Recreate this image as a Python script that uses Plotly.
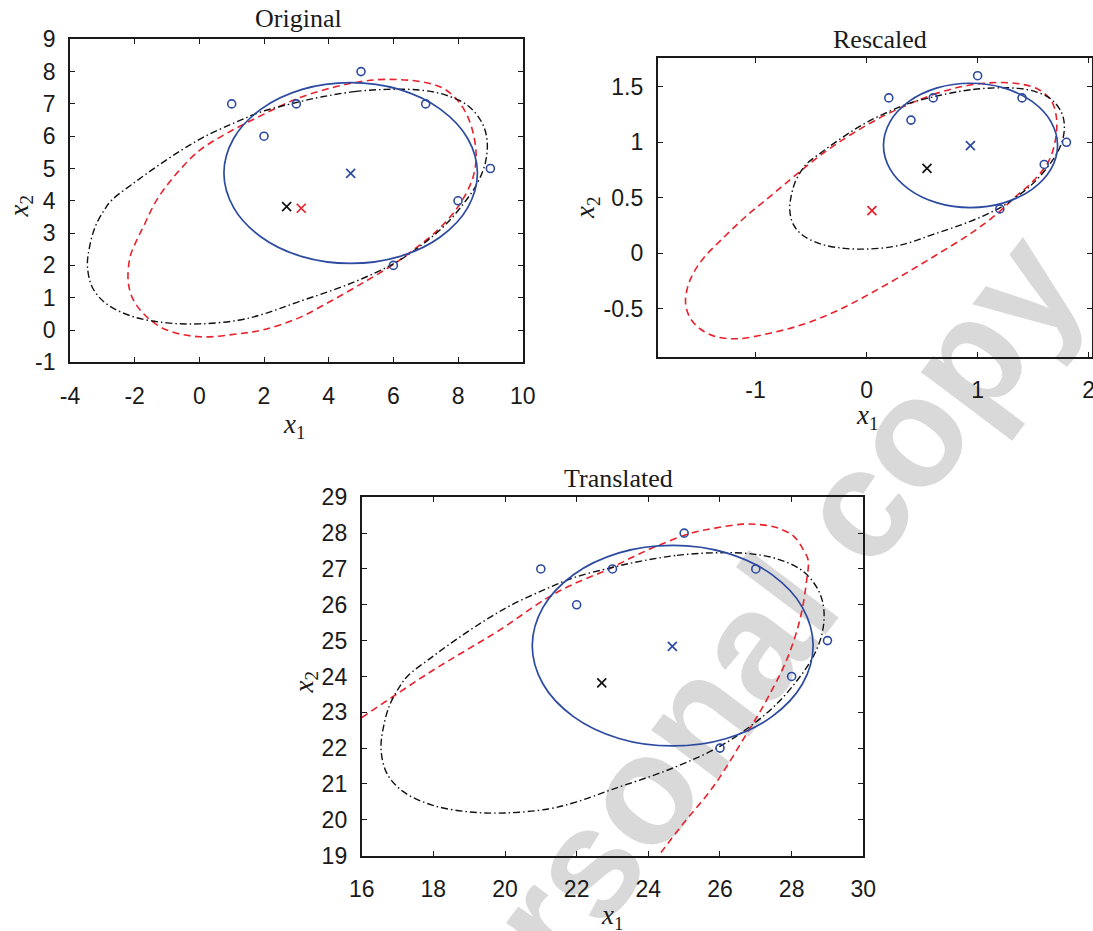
import math
import plotly.graph_objects as go

W, H = 1093, 931

# ---------------- data ----------------
# --- Original ---
orig_pts_x = [1, 2, 3, 5, 7, 9, 8, 6]
orig_pts_y = [7, 6, 7, 8, 7, 5, 4, 2]
orig_blue_x = [4.68, 3.18, 1.91, 1.06, 0.76, 1.06, 1.91, 3.18, 4.68, 6.18, 7.45, 8.30, 8.60, 8.30, 7.45, 6.18, 4.68]
orig_blue_y = [7.66, 7.45, 6.84, 5.93, 4.86, 3.79, 2.88, 2.27, 2.06, 2.27, 2.88, 3.79, 4.86, 5.93, 6.84, 7.45, 7.66]
orig_black_x = [3.80, 4.80, 5.80, 6.80, 7.60, 8.30, 8.75, 8.90, 8.85, 8.60, 8.20, 7.60, 6.90, 6.00, 4.70, 3.00, 2.00, 1.20, 0.00, -1.00, -2.04, -2.86, -3.30, -3.46, -3.40, -3.22, -2.95, -2.71, -2.04, -1.32, -0.55, 0.15, 1.05, 1.90, 2.90, 3.80]
orig_black_y = [7.22, 7.38, 7.45, 7.43, 7.28, 6.95, 6.40, 5.85, 5.20, 4.55, 3.95, 3.25, 2.65, 2.05, 1.45, 0.85, 0.50, 0.30, 0.19, 0.22, 0.41, 0.80, 1.30, 1.96, 2.55, 3.20, 3.70, 4.02, 4.54, 5.06, 5.57, 5.98, 6.40, 6.75, 7.02, 7.22]
orig_red_x = [3.04, 4.13, 5.00, 5.75, 6.84, 7.49, 7.93, 8.25, 8.47, 8.56, 8.47, 8.25, 7.93, 7.38, 6.62, 5.97, 5.21, 4.13, 3.04, 1.95, 1.26, 0.02, -1.01, -1.63, -2.04, -2.20, -2.14, -1.95, -1.73, -1.32, -0.70, 0.02, 0.85, 1.95, 3.04]
orig_red_y = [7.17, 7.51, 7.69, 7.76, 7.69, 7.51, 7.17, 6.71, 6.09, 5.37, 4.75, 4.23, 3.72, 3.10, 2.48, 2.01, 1.55, 0.93, 0.36, 0.00, -0.11, -0.21, 0.00, 0.41, 0.93, 1.50, 2.27, 2.75, 3.20, 4.02, 4.85, 5.57, 6.09, 6.66, 7.17]
orig_cross_blue = (4.68, 4.85)
orig_cross_black = (2.70, 3.82)
orig_cross_red = (3.15, 3.77)

# --- Rescaled ---
resc_pts_x = [0.2, 0.4, 0.6, 1.0, 1.4, 1.8, 1.6, 1.2]
resc_pts_y = [1.4, 1.2, 1.4, 1.6, 1.4, 1.0, 0.8, 0.4]
resc_blue_x = [0.936, 0.636, 0.382, 0.212, 0.152, 0.212, 0.382, 0.636, 0.936, 1.236, 1.490, 1.660, 1.720, 1.660, 1.490, 1.236, 0.936]
resc_blue_y = [1.532, 1.490, 1.368, 1.186, 0.972, 0.758, 0.576, 0.454, 0.412, 0.454, 0.576, 0.758, 0.972, 1.186, 1.368, 1.490, 1.532]
resc_black_x = [0.760, 0.960, 1.160, 1.360, 1.520, 1.660, 1.750, 1.780, 1.770, 1.720, 1.640, 1.520, 1.380, 1.200, 0.940, 0.600, 0.400, 0.240, 0.000, -0.200, -0.408, -0.572, -0.660, -0.692, -0.680, -0.644, -0.590, -0.542, -0.408, -0.264, -0.110, 0.030, 0.210, 0.380, 0.580, 0.760]
resc_black_y = [1.444, 1.476, 1.490, 1.486, 1.456, 1.390, 1.280, 1.170, 1.040, 0.910, 0.790, 0.650, 0.530, 0.410, 0.290, 0.170, 0.100, 0.060, 0.038, 0.044, 0.082, 0.160, 0.260, 0.392, 0.510, 0.640, 0.740, 0.804, 0.908, 1.012, 1.114, 1.196, 1.280, 1.350, 1.404, 1.444]
resc_red_x = [0.35, 0.60, 0.85, 1.10, 1.35, 1.54, 1.66, 1.71, 1.70, 1.64, 1.50, 1.33, 1.18, 0.94, 0.62, 0.32, 0.02, -0.27, -0.57, -0.87, -1.16, -1.36, -1.50, -1.59, -1.63, -1.61, -1.555, -1.465, -1.31, -1.10, -0.86, -0.62, -0.38, -0.14, 0.10, 0.35]
resc_red_y = [1.33, 1.43, 1.50, 1.535, 1.53, 1.48, 1.38, 1.22, 1.02, 0.83, 0.65, 0.50, 0.36, 0.18, -0.02, -0.20, -0.37, -0.52, -0.64, -0.72, -0.77, -0.75, -0.68, -0.58, -0.45, -0.30, -0.17, -0.04, 0.12, 0.32, 0.52, 0.72, 0.91, 1.07, 1.21, 1.33]
resc_cross_blue = (0.935, 0.969)
resc_cross_black = (0.544, 0.765)
resc_cross_red = (0.048, 0.384)

# --- Translated ---
tran_pts_x = [21, 22, 23, 25, 27, 29, 28, 26]
tran_pts_y = [27, 26, 27, 28, 27, 25, 24, 22]
tran_blue_x = [24.68, 23.18, 21.91, 21.06, 20.76, 21.06, 21.91, 23.18, 24.68, 26.18, 27.45, 28.30, 28.60, 28.30, 27.45, 26.18, 24.68]
tran_blue_y = [27.66, 27.45, 26.84, 25.93, 24.86, 23.79, 22.88, 22.27, 22.06, 22.27, 22.88, 23.79, 24.86, 25.93, 26.84, 27.45, 27.66]
tran_black_x = [23.80, 24.80, 25.80, 26.80, 27.60, 28.30, 28.75, 28.90, 28.85, 28.60, 28.20, 27.60, 26.90, 26.00, 24.70, 23.00, 22.00, 21.20, 20.00, 19.00, 17.96, 17.14, 16.70, 16.54, 16.60, 16.78, 17.05, 17.29, 17.96, 18.68, 19.45, 20.15, 21.05, 21.90, 22.90, 23.80]
tran_black_y = [27.22, 27.38, 27.45, 27.43, 27.28, 26.95, 26.40, 25.85, 25.20, 24.55, 23.95, 23.25, 22.65, 22.05, 21.45, 20.85, 20.50, 20.30, 20.19, 20.22, 20.41, 20.80, 21.30, 21.96, 22.55, 23.20, 23.70, 24.02, 24.54, 25.06, 25.57, 25.98, 26.40, 26.75, 27.02, 27.22]
tran_red_x = [16.00, 17.07, 18.00, 18.93, 19.86, 21.16, 22.00, 22.84, 23.60, 24.31, 25.20, 25.86, 26.63, 27.18, 27.62, 28.06, 28.33, 28.46, 28.42, 28.23, 27.86, 27.30, 26.75, 25.81, 24.98, 24.28]
tran_red_y = [22.85, 23.57, 24.18, 24.74, 25.30, 26.18, 26.62, 26.97, 27.35, 27.67, 28.00, 28.14, 28.25, 28.23, 28.14, 27.91, 27.53, 27.25, 26.69, 25.58, 24.46, 23.34, 22.41, 20.92, 19.90, 18.99]
tran_cross_blue = (24.67, 24.84)
tran_cross_black = (22.70, 23.82)

# --- ticks ---
orig_xticks = [-4, -2, 0, 2, 4, 6, 8, 10]
orig_xtext = ["-4", "-2", "0", "2", "4", "6", "8", "10"]
orig_yticks = [-1, 0, 1, 2, 3, 4, 5, 6, 7, 8, 9]
orig_ytext = ["-1", "0", "1", "2", "3", "4", "5", "6", "7", "8", "9"]
resc_xticks = [-1, 0, 1, 2]
resc_xtext = ["-1", "0", "1", "2"]
resc_yticks = [-0.5, 0, 0.5, 1, 1.5]
resc_ytext = ["-0.5", "0", "0.5", "1", "1.5"]
tran_xticks = [16, 18, 20, 22, 24, 26, 28, 30]
tran_xtext = ["16", "18", "20", "22", "24", "26", "28", "30"]
tran_yticks = [19, 20, 21, 22, 23, 24, 25, 26, 27, 28, 29]
tran_ytext = ["19", "20", "21", "22", "23", "24", "25", "26", "27", "28", "29"]

titles = ["Original", "Rescaled", "Translated"]
watermark_text = "personal copy"

# ---------------- styling ----------------
BLUE = "#2c4aa0"
RED = "#e8212b"
BLACK = "#111111"
AX = "#1a1a1a"
TICKFONT = dict(family="Liberation Sans, Arial, sans-serif", size=23, color=AX)
SERIF = "Liberation Serif, Times New Roman, serif"

# pixel boxes (left, top, right, bottom)
boxes = {
    "orig": (70.0, 39.3, 522.7, 362.3),
    "resc": (657.7, 57.7, 1092.0, 356.5),
    "tran": (361.7, 497.3, 863.3, 855.6),
}


def px(x):
    return x / W


def py(y):
    return 1 - y / H


fig = go.Figure()


def add_panel(xa, ya, blue_x, blue_y, black_x, black_y, red_x, red_y,
              pts_x, pts_y, crosses):
    fig.add_trace(go.Scatter(x=red_x, y=red_y, mode="lines", xaxis=xa, yaxis=ya,
                             line=dict(color=RED, width=1.6, dash="7px,4.5px", shape="spline", smoothing=1.0),
                             hoverinfo="skip"))
    fig.add_trace(go.Scatter(x=black_x, y=black_y, mode="lines", xaxis=xa, yaxis=ya,
                             line=dict(color=BLACK, width=1.4, dash="7px,3px,1.5px,3px", shape="spline", smoothing=1.0),
                             hoverinfo="skip"))
    fig.add_trace(go.Scatter(x=blue_x, y=blue_y, mode="lines", xaxis=xa, yaxis=ya,
                             line=dict(color=BLUE, width=1.7, shape="spline", smoothing=1.0),
                             hoverinfo="skip"))
    fig.add_trace(go.Scatter(x=pts_x, y=pts_y, mode="markers", xaxis=xa, yaxis=ya,
                             marker=dict(symbol="circle-open", size=8, color=BLUE, line=dict(width=1.6, color=BLUE))))
    for (cx, cy), col in crosses:
        fig.add_trace(go.Scatter(x=[cx], y=[cy], mode="markers", xaxis=xa, yaxis=ya,
                                 marker=dict(symbol="x-thin", size=9, color=col, line=dict(width=1.7, color=col))))


add_panel("x", "y", orig_blue_x, orig_blue_y, orig_black_x, orig_black_y, orig_red_x, orig_red_y,
          orig_pts_x, orig_pts_y,
          [(orig_cross_black, BLACK), (orig_cross_red, RED), (orig_cross_blue, BLUE)])
add_panel("x2", "y2", resc_blue_x, resc_blue_y, resc_black_x, resc_black_y, resc_red_x, resc_red_y,
          resc_pts_x, resc_pts_y,
          [(resc_cross_black, BLACK), (resc_cross_red, RED), (resc_cross_blue, BLUE)])
add_panel("x3", "y3", tran_blue_x, tran_blue_y, tran_black_x, tran_black_y, tran_red_x, tran_red_y,
          tran_pts_x, tran_pts_y,
          [(tran_cross_black, BLACK), (tran_cross_blue, BLUE)])


def axis(domain, rng, tickvals, ticktext, anchor, standoff):
    return dict(domain=domain, range=rng, tickvals=tickvals, ticktext=ticktext, anchor=anchor,
                showline=True, linecolor=AX, linewidth=1.8, mirror="ticks",
                ticks="inside", ticklen=5, tickwidth=1.2, tickcolor=AX,
                showgrid=False, zeroline=False, tickfont=TICKFONT, automargin=False,
                ticklabeloverflow="allow", ticklabelstandoff=standoff, fixedrange=True)


def xdom(b):
    return [px(b[0]), px(b[2])]


def ydom(b):
    return [py(b[3]), py(b[1])]


bo, br, bt = boxes["orig"], boxes["resc"], boxes["tran"]

layout = dict(
    width=W, height=H, margin=dict(l=0, r=0, t=0, b=0, pad=0, autoexpand=False),
    paper_bgcolor="white", plot_bgcolor="rgba(0,0,0,0)", showlegend=False,
    xaxis=axis(xdom(bo), [-4, 10], orig_xticks, orig_xtext, "y", 12),
    yaxis=axis(ydom(bo), [-1, 9], orig_yticks, orig_ytext, "x", 8),
    xaxis2=axis(xdom(br), [-1.881, 2.03], resc_xticks, resc_xtext, "y2", 12),
    yaxis2=axis(ydom(br), [-0.93, 1.762], resc_yticks, resc_ytext, "x2", 8),
    xaxis3=axis(xdom(bt), [16, 30], tran_xticks, tran_xtext, "y3", 12),
    yaxis3=axis(ydom(bt), [19, 29], tran_yticks, tran_ytext, "x3", 8),
)
fig.update_layout(**layout)

annotations = []
# titles
title_pos = [(298.5, 18.3), (880.3, 40.0), (618.2, 478.0)]
for t, (tx, ty) in zip(titles, title_pos):
    annotations.append(dict(text=t, x=px(tx), y=py(ty), xref="paper", yref="paper",
                            xanchor="center", yanchor="middle", showarrow=False,
                            font=dict(family=SERIF, size=26, color=AX)))
# x labels
for (lx, ly) in [(294, 426), (867, 417), (612, 917)]:
    annotations.append(dict(text="<i>x</i><sub>1</sub>", x=px(lx), y=py(ly), xref="paper", yref="paper",
                            xanchor="center", yanchor="middle", showarrow=False,
                            font=dict(family=SERIF, size=27, color=AX)))
# y labels
for (lx, ly) in [(21, 206.5), (587, 208), (305, 682.5)]:
    annotations.append(dict(text="<i>x</i><sub>2</sub>", x=px(lx), y=py(ly), xref="paper", yref="paper",
                            xanchor="center", yanchor="middle", showarrow=False, textangle=-90,
                            font=dict(family=SERIF, size=27, color=AX)))
fig.update_layout(annotations=annotations)

# watermark (drawn beneath everything)
wm_cx, wm_cy, wm_ang = 718, 664, 53.0
dx = 100 * math.cos(math.radians(wm_ang))
dy = 100 * math.sin(math.radians(wm_ang))
fig.add_shape(type="line", xref="paper", yref="paper", layer="below",
              x0=px(wm_cx - dx), y0=py(wm_cy + dy), x1=px(wm_cx + dx), y1=py(wm_cy - dy),
              line=dict(color="rgba(0,0,0,0)", width=0),
              label=dict(text=watermark_text, textposition="middle", yanchor="middle",
                         textangle=-wm_ang, padding=0,
                         font=dict(family="Liberation Sans, Arial, sans-serif", size=155,
                                   color="#d9d9d9", weight="bold")))

fig.write_html("out.html", config={"displayModeBar": False},
               post_script="document.body.style.margin='0px';document.body.style.overflow='hidden';")
